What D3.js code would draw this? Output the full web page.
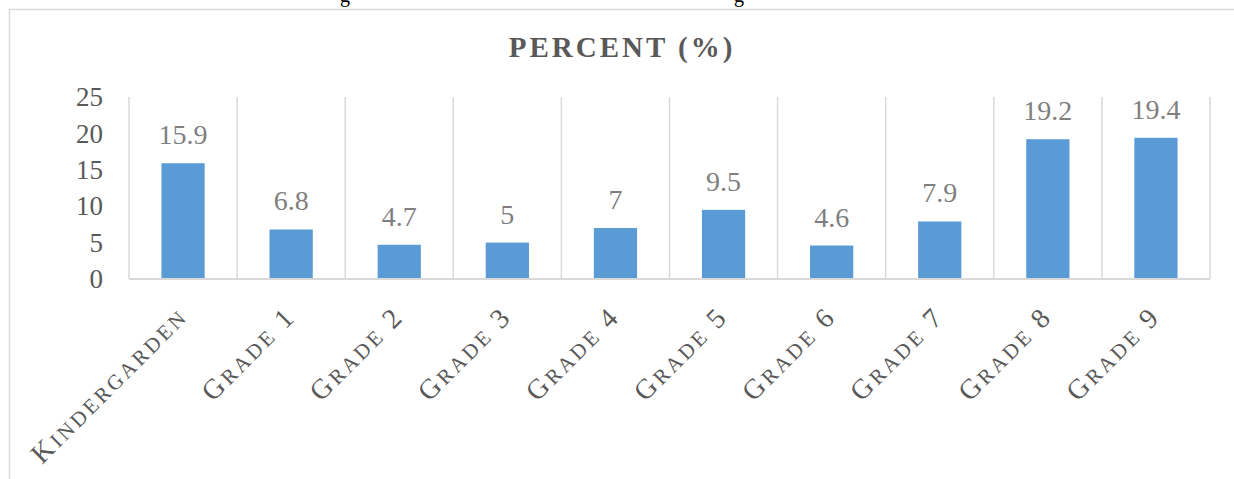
<!DOCTYPE html>
<html>
<head>
<meta charset="utf-8">
<script src="https://cdn.jsdelivr.net/npm/d3@7"></script>
<style>
  body { margin: 0; background: #fff; }
  svg { display: block; }
  svg text { font-family: "Liberation Serif", "Times New Roman", serif; }
</style>
</head>
<body>
<div id="chart"></div>
<script>
const categories = ['Kindergarden', 'Grade 1', 'Grade 2', 'Grade 3', 'Grade 4',
                    'Grade 5', 'Grade 6', 'Grade 7', 'Grade 8', 'Grade 9'];
const percent = [15.9, 6.8, 4.7, 5, 7, 9.5, 4.6, 7.9, 19.2, 19.4];
const yTicks = [0, 5, 10, 15, 20, 25];
const title = 'PERCENT (%)';

const width = 1234, height = 479;
const plot = {l: 129, r: 1210, t: 97, b: 279};

const svg = d3.select('#chart').append('svg')
  .attr('width', width).attr('height', height);

// cut-off caption descenders from the page above
svg.append('text').attr('x', 340).attr('y', 2).attr('font-size', 20).attr('fill', '#000').text('g');
svg.append('text').attr('x', 734).attr('y', 2).attr('font-size', 20).attr('fill', '#000').text('g');

// chart frame (runs off right / bottom)
svg.append('rect')
  .attr('x', 9.5).attr('y', 9.5)
  .attr('width', 1300).attr('height', 600)
  .attr('fill', '#fff').attr('stroke', '#d9d9d9').attr('stroke-width', 1.5);

svg.append('text')
  .attr('x', 622).attr('y', 57)
  .attr('text-anchor', 'middle')
  .attr('font-size', 29).attr('font-weight', 'bold')
  .attr('letter-spacing', 3)
  .attr('fill', '#595959')
  .text(title);

const x = d3.scaleBand()
  .domain(categories)
  .range([plot.l, plot.r]);

const y = d3.scaleLinear()
  .domain([0, 25])
  .range([plot.b, plot.t]);

const g = svg.append('g');

// vertical gridlines at category boundaries
const bounds = categories.map(c => x(c)).concat([x.range()[1]]);
g.selectAll('.grid').data(bounds).enter().append('line')
  .attr('x1', d => d).attr('x2', d => d)
  .attr('y1', y(25)).attr('y2', y(0))
  .attr('stroke', '#d9d9d9').attr('stroke-width', 1.5);

// bars
const bw = x.bandwidth() * 0.4;
g.selectAll('.bar').data(percent).enter().append('rect')
  .attr('x', (d, i) => x(categories[i]) + (x.bandwidth() - bw) / 2)
  .attr('y', d => y(d))
  .attr('width', bw)
  .attr('height', d => y(0) - y(d))
  .attr('fill', '#5b9bd5');

// value labels
g.selectAll('.val').data(percent).enter().append('text')
  .attr('x', (d, i) => x(categories[i]) + x.bandwidth() / 2)
  .attr('y', d => y(d) - 19)
  .attr('text-anchor', 'middle')
  .attr('font-size', 28)
  .attr('fill', '#7f7f7f')
  .text(d => d);

// x axis line
g.append('line')
  .attr('x1', x.range()[0]).attr('x2', x.range()[1])
  .attr('y1', y(0)).attr('y2', y(0))
  .attr('stroke', '#d9d9d9').attr('stroke-width', 2);

// y axis labels
const axisY = d3.axisLeft(y).tickValues(yTicks).tickSize(0).tickPadding(26);
const ya = svg.append('g')
  .attr('transform', `translate(${plot.l}, 0)`)
  .call(axisY);
ya.attr('font-family', null);
ya.select('.domain').remove();
ya.selectAll('text')
  .attr('font-size', 27)
  .attr('fill', '#595959');

// category labels, small caps, rotated
const labels = g.selectAll('.cat').data(categories).enter().append('text')
  .attr('text-anchor', 'end')
  .attr('font-size', 28)
  .attr('letter-spacing', 3)
  .attr('fill', '#595959')
  .attr('transform', c => `translate(${x(c) + x.bandwidth() / 2 + 6}, ${y(0) + 39}) rotate(-45)`);

labels.each(function (c) {
  const t = d3.select(this);
  let run = '', small = null;
  const flush = () => {
    if (!run) return;
    t.append('tspan').attr('font-size', small ? 21 : 28).text(run.toUpperCase());
    run = '';
  };
  c.split('').forEach(ch => {
    const isSmall = ch !== ch.toUpperCase();
    if (small !== null && isSmall !== small) flush();
    small = isSmall;
    run += ch;
  });
  flush();
});
</script>
</body>
</html>
